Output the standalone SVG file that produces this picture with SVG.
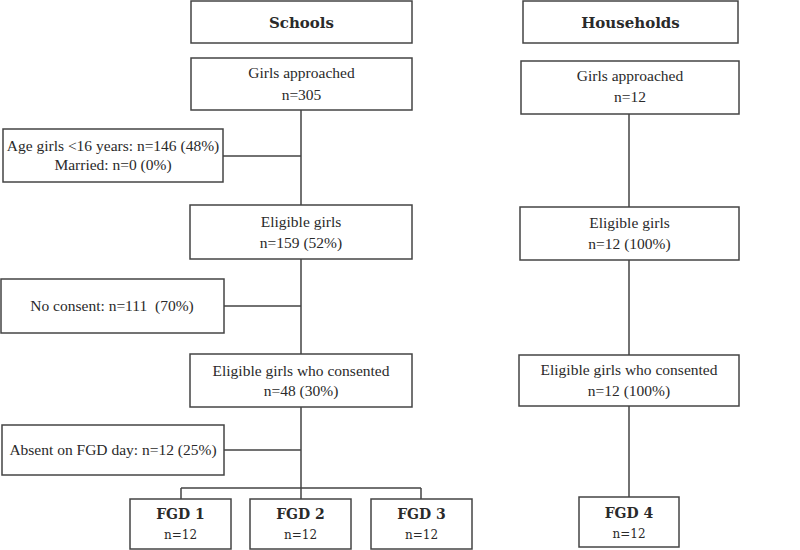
<svg xmlns="http://www.w3.org/2000/svg" width="800" height="550" viewBox="0 0 800 550">
<style>
.box{fill:#fff;stroke:#444;stroke-width:1.5}
.ln{fill:none;stroke:#444;stroke-width:1.5}
text{font-family:"DejaVu Serif","Liberation Serif",serif;fill:#2a2a2a;text-anchor:middle}
.t{font-family:"Liberation Serif",serif;font-size:15.5px}
.h{font-size:15px;font-weight:bold}
.f{font-size:14px;font-weight:bold}
.s{font-size:12px}
</style>
<rect width="800" height="550" fill="#fff"/>
<g id="connectors">
<path class="ln" d="M301 110V205M223 156H301M301 259V354M224 306H301M301 407V488M224 450H301M181 488H421M181 488V499M301 488V499M421 488V499"/>
<path class="ln" d="M629 114V207M629 260V355M629 406V497"/>
</g>
<g id="schools"><rect class="box" x="191" y="1" width="221" height="42"/><text class="h" x="301.5" y="28">Schools</text></g>
<g id="households"><rect class="box" x="523" y="1" width="215" height="42"/><text class="h" x="630.5" y="28">Households</text></g>
<g id="s_approached"><rect class="box" x="191" y="58" width="221" height="52"/><text class="t" x="301.5" y="78">Girls approached</text><text class="t" x="301.5" y="100">n=305</text></g>
<g id="s_excluded"><rect class="box" x="3" y="129" width="220" height="53"/><text class="t" x="113" y="151">Age girls &lt;16 years: n=146 (48%)</text><text class="t" x="113" y="170">Married: n=0 (0%)</text></g>
<g id="s_eligible"><rect class="box" x="190" y="205" width="222" height="54"/><text class="t" x="301" y="227">Eligible girls</text><text class="t" x="301" y="248">n=159 (52%)</text></g>
<g id="s_noconsent"><rect class="box" x="1" y="279" width="223" height="54"/><text class="t" x="112" y="311" xml:space="preserve">No consent: n=111  (70%)</text></g>
<g id="s_consented"><rect class="box" x="190" y="354" width="222" height="53"/><text class="t" x="301" y="376">Eligible girls who consented</text><text class="t" x="301" y="396">n=48 (30%)</text></g>
<g id="s_absent"><rect class="box" x="2" y="425" width="222" height="50"/><text class="t" x="113" y="455">Absent on FGD day: n=12 (25%)</text></g>
<g id="fgd1"><rect class="box" x="130" y="499" width="101" height="50"/><text class="f" x="180.5" y="519">FGD 1</text><text class="s" x="180.5" y="539">n=12</text></g>
<g id="fgd2"><rect class="box" x="250" y="499" width="101" height="50"/><text class="f" x="300.5" y="519">FGD 2</text><text class="s" x="300.5" y="539">n=12</text></g>
<g id="fgd3"><rect class="box" x="371" y="499" width="101" height="50"/><text class="f" x="421.5" y="519">FGD 3</text><text class="s" x="421.5" y="539">n=12</text></g>
<g id="h_approached"><rect class="box" x="521" y="61" width="218" height="53"/><text class="t" x="630" y="81">Girls approached</text><text class="t" x="630" y="102">n=12</text></g>
<g id="h_eligible"><rect class="box" x="520" y="207" width="219" height="53"/><text class="t" x="629.5" y="228">Eligible girls</text><text class="t" x="629.5" y="249">n=12 (100%)</text></g>
<g id="h_consented"><rect class="box" x="519" y="355" width="220" height="51"/><text class="t" x="629" y="375">Eligible girls who consented</text><text class="t" x="629" y="396">n=12 (100%)</text></g>
<g id="fgd4"><rect class="box" x="579" y="497" width="100" height="50"/><text class="f" x="629" y="518">FGD 4</text><text class="s" x="629" y="538">n=12</text></g>
</svg>
